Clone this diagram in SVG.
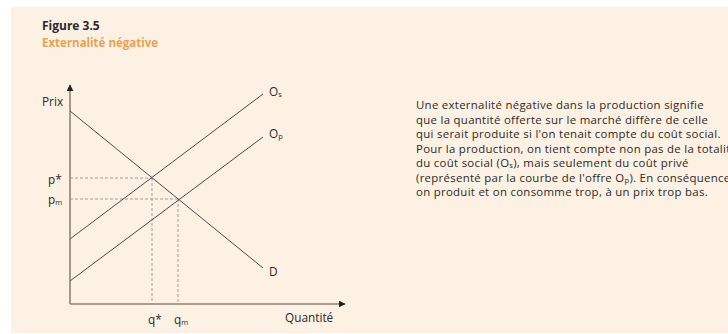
<svg xmlns="http://www.w3.org/2000/svg" width="728" height="334" viewBox="0 0 728 334">
<defs>
<style>
.t{font-family:"Open Sans","Noto Sans","Liberation Sans",sans-serif;fill:#2a2a2a}
.lbl{font-size:11.8px}
.sub{font-size:7.5px}
.body{font-size:11.4px;letter-spacing:0.3px}
.axis{stroke:#8c847a;stroke-width:1.6;fill:none}
.curve{stroke:#4a4a4a;stroke-width:1;fill:none}
.dash{stroke:#8a8a8a;stroke-width:0.8;stroke-dasharray:3,2;fill:none}
</style>
<marker id="ah2" viewBox="0 0 10 10" refX="9" refY="5" markerWidth="7" markerHeight="7" orient="auto" markerUnits="userSpaceOnUse">
<path d="M0,0 L10,5 L0,10 z" fill="#222"/>
</marker>
</defs>
<rect x="11" y="7" width="717" height="326" fill="#fdf1e3"/>
<g id="title">
<text class="t" x="42" y="30" font-size="12" font-weight="bold" fill="#222">Figure 3.5</text>
<text class="t" x="42" y="47" font-size="11.5" font-weight="bold" style="fill:#e9a251">Externalité négative</text>
</g>
<g id="connectors">
<line class="axis" x1="70" y1="304" x2="70" y2="85" marker-end="url(#ah2)"/>
<line class="axis" x1="70" y1="304" x2="345" y2="304" marker-end="url(#ah2)"/>
<line class="dash" x1="70" y1="178" x2="152" y2="178"/>
<line class="dash" x1="152" y1="178" x2="152" y2="304"/>
<line class="dash" x1="70" y1="199" x2="178" y2="199"/>
<line class="dash" x1="178" y1="199" x2="178" y2="304"/>
</g>
<g id="D">
<line class="curve" x1="70" y1="111" x2="263" y2="268"/>
<text class="t lbl" x="269" y="276">D</text>
</g>
<g id="Os">
<line class="curve" x1="70" y1="239" x2="263" y2="94"/>
<text class="t lbl" x="269" y="96">O<tspan class="sub" dy="1">s</tspan></text>
</g>
<g id="Op">
<line class="curve" x1="70" y1="281" x2="263" y2="137"/>
<text class="t lbl" x="269" y="138">O<tspan class="sub" dy="1">p</tspan></text>
</g>
<g id="labels">
<text class="t lbl" x="42" y="106">Prix</text>
<text class="t lbl" x="48" y="184">p*</text>
<text class="t lbl" x="48" y="204">p<tspan class="sub" dy="1">m</tspan></text>
<text class="t lbl" x="148" y="324">q*</text>
<text class="t lbl" x="174" y="324">q<tspan class="sub" dy="1">m</tspan></text>
<text class="t lbl" x="285" y="322">Quantité</text>
</g>
<g id="caption">
<text class="t body" x="416" y="109">Une externalité négative dans la production signifie</text>
<text class="t body" x="416" y="123.5">que la quantité offerte sur le marché diffère de celle</text>
<text class="t body" x="416" y="138">qui serait produite si l'on tenait compte du coût social.</text>
<text class="t body" x="416" y="152.5">Pour la production, on tient compte non pas de la totalité</text>
<text class="t body" x="416" y="167">du coût social (O<tspan class="sub" dy="1">s</tspan><tspan dy="-1">), mais seulement du coût privé</tspan></text>
<text class="t body" x="416" y="181.5">(représenté par la courbe de l'offre O<tspan class="sub" dy="1">p</tspan><tspan dy="-1">). En conséquence,</tspan></text>
<text class="t body" x="416" y="196">on produit et on consomme trop, à un prix trop bas.</text>
</g>
</svg>
